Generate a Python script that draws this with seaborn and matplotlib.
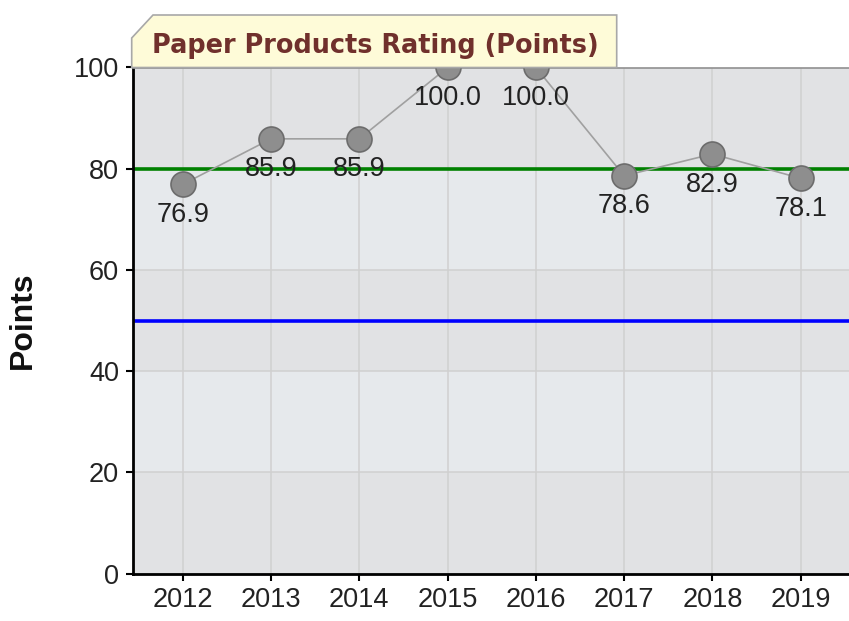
import matplotlib
matplotlib.use("Agg")
import matplotlib.pyplot as plt
from matplotlib.patches import Polygon
import seaborn as sns
import pandas as pd

# data
years = [2012, 2013, 2014, 2015, 2016, 2017, 2018, 2019]
points = [76.9, 85.9, 85.9, 100.0, 100.0, 78.6, 82.9, 78.1]
y_ticks = [0, 20, 40, 60, 80, 100]
goal_line = 80
floor_line = 50
title = "Paper Products Rating (Points)"

df = pd.DataFrame({"year": years, "points": points})

sns.set_style("white")
plt.rcParams["font.family"] = ["Liberation Sans", "DejaVu Sans"]

W, H = 849, 621
fig = plt.figure(figsize=(W / 100, H / 100), dpi=100)
top_px, bot_px, left_px = 67.5, 573.5, 133
ax = fig.add_axes([left_px / W, (H - bot_px) / H, (W - left_px) / W, (bot_px - top_px) / H])

# alternating bands between gridlines
band_cols = ["#e1e2e4", "#e6e9ec"]
for i in range(len(y_ticks) - 1):
    ax.axhspan(y_ticks[i], y_ticks[i + 1], color=band_cols[i % 2], zorder=0, lw=0)

ax.axhline(goal_line, color="#008000", lw=2.6, zorder=2)
ax.axhline(floor_line, color="#0000ff", lw=2.6, zorder=2)

sns.lineplot(data=df, x="year", y="points", ax=ax, color="#a0a0a0", lw=1.2,
             marker="o", markersize=18, markerfacecolor="#8e8e8e",
             markeredgecolor="#6c6c6c", markeredgewidth=1.2, zorder=3)

for x, y in zip(years, points):
    ax.annotate(f"{y:.1f}", (x, y), xytext=(0, -22), textcoords="offset points",
                ha="center", va="center", fontsize=19.5, color="#222222", zorder=4)

ax.set_xlim(2011.437, 2019.547)
ax.set_ylim(0, 100)
ax.set_xticks(years)
ax.set_yticks(y_ticks)
ax.grid(True, color="#d0d0d0", lw=1.1, zorder=1)
ax.set_axisbelow(True)
ax.tick_params(axis="both", direction="out", length=5, width=1.5, color="black",
               labelsize=19.5, labelcolor="#222222", pad=5)
ax.tick_params(axis="both", which="both", left=True, bottom=True)

for s in ["left", "bottom"]:
    ax.spines[s].set_color("black")
    ax.spines[s].set_linewidth(2)
ax.spines["right"].set_visible(False)
ax.spines["top"].set_color("#909090")
ax.spines["top"].set_linewidth(1.2)

ax.set_xlabel("")
ax.set_ylabel("Points", fontsize=23, fontweight="bold", color="#111111")
ax.yaxis.set_label_coords((38 - left_px) / (W - left_px), 0.5)

# title tab with the clipped corner
box_px = [(131.7, top_px), (131.7, 38), (153, 15), (616.7, 15), (616.7, top_px)]
box = Polygon([(x / W, 1 - y / H) for x, y in box_px], closed=True,
              transform=fig.transFigure, facecolor="#fefbd8", edgecolor="#a8a8a8",
              lw=1.2, zorder=5)
fig.patches.append(box)
fig.text(151.7 / W, 1 - 53 / H, title, fontsize=18.4, fontweight="bold",
         color="#70302c", family="DejaVu Sans", va="baseline", ha="left", zorder=6)

fig.savefig("out.png", dpi=100)
